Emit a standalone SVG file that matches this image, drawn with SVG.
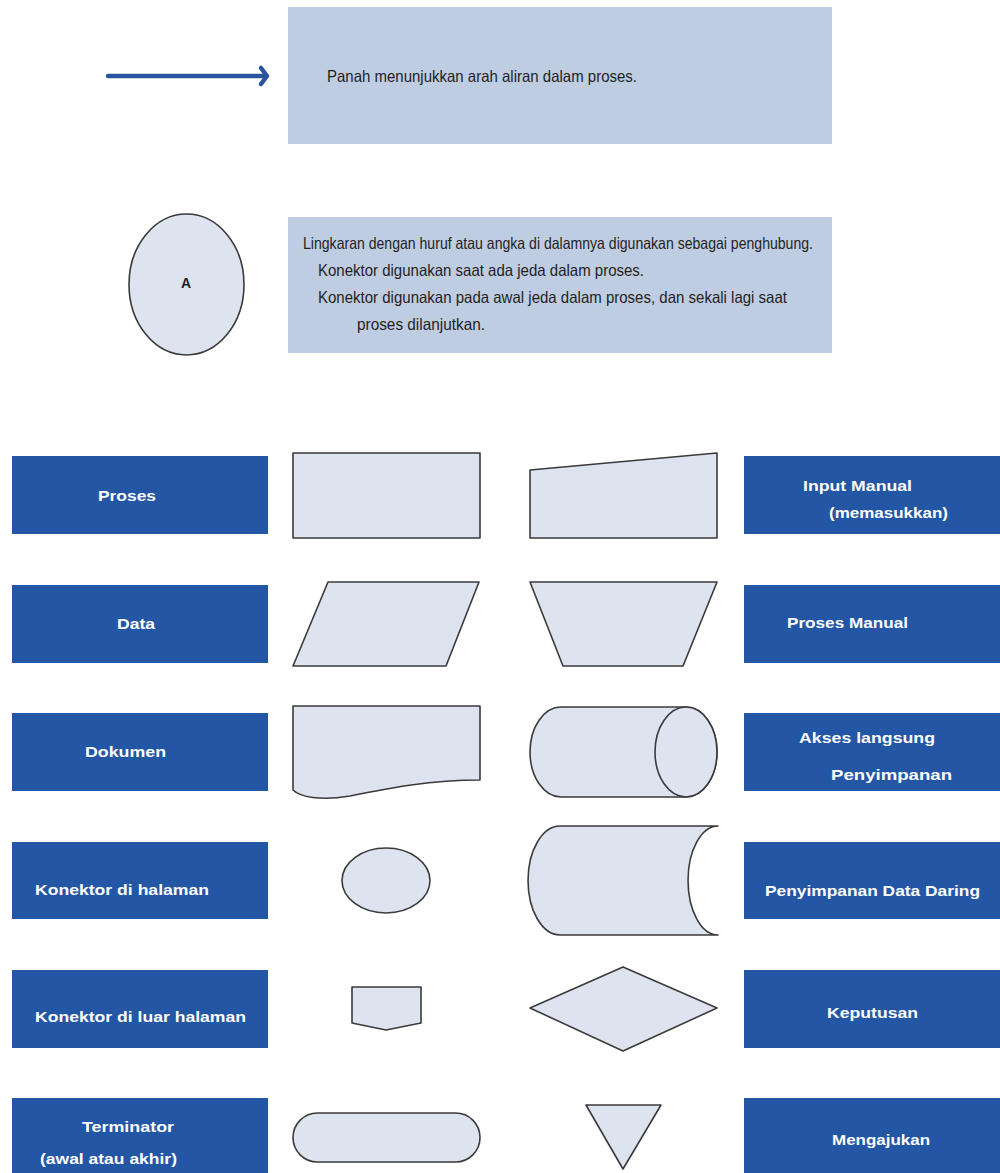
<svg xmlns="http://www.w3.org/2000/svg" width="1000" height="1173" viewBox="0 0 1000 1173">
<style>
.bg{fill:#ffffff}
.note{fill:#bfcde3}
.lbl{fill:#2356a4}
.shape{fill:#dde4f0;stroke:#3a3a3a;stroke-width:1.6;stroke-linejoin:round}
.lt{font-family:"Liberation Sans",Arial,sans-serif;font-weight:bold;font-size:15px;fill:#ffffff}
.nt{font-family:"Liberation Sans Narrow","Liberation Sans",Arial,sans-serif;font-size:16.5px;fill:#1f1f1f}
.arr{fill:none;stroke:#2a53a0;stroke-width:4.5;stroke-linecap:round;stroke-linejoin:round}
</style>
<rect class="bg" x="0" y="0" width="1000" height="1173"/>

<g id="connectors">
  <g id="arrow-legend">
    <line class="arr" x1="108" y1="76" x2="266" y2="76"/>
    <path class="arr" d="M261,68 L267,76 L261,84"/>
  </g>
</g>

<g id="note-arrow">
  <rect class="note" x="288" y="7" width="544" height="137"/>
  <text class="nt" x="327" y="82" textLength="310" lengthAdjust="spacingAndGlyphs">Panah menunjukkan arah aliran dalam proses.</text>
</g>

<g id="connector-A">
  <ellipse class="shape" cx="186.5" cy="284.5" rx="57.5" ry="70.5"/>
  <text x="186" y="288" text-anchor="middle" style="font-family:'Liberation Sans',Arial,sans-serif;font-weight:bold;font-size:14px;fill:#1f1f1f">A</text>
</g>

<g id="note-connector">
  <rect class="note" x="288" y="217" width="544" height="136"/>
  <text class="nt" x="303" y="249" textLength="510" lengthAdjust="spacingAndGlyphs">Lingkaran dengan huruf atau angka di dalamnya digunakan sebagai penghubung.</text>
  <text class="nt" x="318" y="276" textLength="326" lengthAdjust="spacingAndGlyphs">Konektor digunakan saat ada jeda dalam proses.</text>
  <text class="nt" x="318" y="303" textLength="469" lengthAdjust="spacingAndGlyphs">Konektor digunakan pada awal jeda dalam proses, dan sekali lagi saat</text>
  <text class="nt" x="357" y="330" textLength="128" lengthAdjust="spacingAndGlyphs">proses dilanjutkan.</text>
</g>

<!-- Row 1 -->
<g id="label-proses">
  <rect class="lbl" x="12" y="456" width="256" height="78"/>
  <text class="lt" x="98" y="501" textLength="58" lengthAdjust="spacingAndGlyphs">Proses</text>
</g>
<g id="shape-proses">
  <rect class="shape" x="293" y="453" width="187" height="85"/>
</g>
<g id="shape-input-manual">
  <polygon class="shape" points="530,470 717,453 717,538 530,538"/>
</g>
<g id="label-input-manual">
  <rect class="lbl" x="744" y="456" width="256" height="78"/>
  <text class="lt" x="803" y="491" textLength="109" lengthAdjust="spacingAndGlyphs">Input Manual</text>
  <text class="lt" x="829" y="518" textLength="119" lengthAdjust="spacingAndGlyphs">(memasukkan)</text>
</g>

<!-- Row 2 -->
<g id="label-data">
  <rect class="lbl" x="12" y="585" width="256" height="78"/>
  <text class="lt" x="117" y="629" textLength="38" lengthAdjust="spacingAndGlyphs">Data</text>
</g>
<g id="shape-data">
  <polygon class="shape" points="328,582 479,582 446,666 293,666"/>
</g>
<g id="shape-proses-manual">
  <polygon class="shape" points="530,582 717,582 683,666 563,666"/>
</g>
<g id="label-proses-manual">
  <rect class="lbl" x="744" y="585" width="256" height="78"/>
  <text class="lt" x="787" y="628" textLength="121" lengthAdjust="spacingAndGlyphs">Proses Manual</text>
</g>

<!-- Row 3 -->
<g id="label-dokumen">
  <rect class="lbl" x="12" y="713" width="256" height="78"/>
  <text class="lt" x="85" y="757" textLength="81" lengthAdjust="spacingAndGlyphs">Dokumen</text>
</g>
<g id="shape-dokumen">
  <path class="shape" d="M293,706 L480,706 L480,780 C430,780 390,788 350,796 C320,801 300,797 293,790 Z"/>
</g>
<g id="shape-akses-langsung">
  <path class="shape" d="M561,707 L686,707 A31,45 0 0 1 686,797 L561,797 A31,45 0 0 1 561,707 Z"/>
  <ellipse class="shape" cx="686" cy="752" rx="31" ry="45"/>
</g>
<g id="label-akses-langsung">
  <rect class="lbl" x="744" y="713" width="256" height="78"/>
  <text class="lt" x="799" y="743" textLength="136" lengthAdjust="spacingAndGlyphs">Akses langsung</text>
  <text class="lt" x="831" y="780" textLength="121" lengthAdjust="spacingAndGlyphs">Penyimpanan</text>
</g>

<!-- Row 4 -->
<g id="label-konektor-halaman">
  <rect class="lbl" x="12" y="842" width="256" height="77"/>
  <text class="lt" x="35" y="895" textLength="174" lengthAdjust="spacingAndGlyphs">Konektor di halaman</text>
</g>
<g id="shape-konektor-halaman">
  <ellipse class="shape" cx="386" cy="880.5" rx="44" ry="32.5"/>
</g>
<g id="shape-penyimpanan-daring">
  <path class="shape" d="M560,826 L718,826 A30,54.5 0 0 0 718,935 L560,935 A32,54.5 0 0 1 560,826 Z"/>
</g>
<g id="label-penyimpanan-daring">
  <rect class="lbl" x="744" y="842" width="256" height="77"/>
  <text class="lt" x="765" y="896" textLength="215" lengthAdjust="spacingAndGlyphs">Penyimpanan  Data  Daring</text>
</g>

<!-- Row 5 -->
<g id="label-konektor-luar">
  <rect class="lbl" x="12" y="970" width="256" height="78"/>
  <text class="lt" x="35" y="1022" textLength="211" lengthAdjust="spacingAndGlyphs">Konektor di luar halaman</text>
</g>
<g id="shape-konektor-luar">
  <polygon class="shape" points="352,987 421,987 421,1023 386,1030 352,1023"/>
</g>
<g id="shape-keputusan">
  <polygon class="shape" points="530,1008 623,967 717,1008 623,1051"/>
</g>
<g id="label-keputusan">
  <rect class="lbl" x="744" y="970" width="256" height="78"/>
  <text class="lt" x="827" y="1018" textLength="91" lengthAdjust="spacingAndGlyphs">Keputusan</text>
</g>

<!-- Row 6 -->
<g id="label-terminator">
  <rect class="lbl" x="12" y="1098" width="256" height="75"/>
  <text class="lt" x="82" y="1132" textLength="92" lengthAdjust="spacingAndGlyphs">Terminator</text>
  <text class="lt" x="40" y="1164" textLength="137" lengthAdjust="spacingAndGlyphs">(awal atau akhir)</text>
</g>
<g id="shape-terminator">
  <rect class="shape" x="293" y="1113" width="187" height="49" rx="24.5" ry="24.5"/>
</g>
<g id="shape-mengajukan">
  <polygon class="shape" points="586,1105 661,1105 623,1169"/>
</g>
<g id="label-mengajukan">
  <rect class="lbl" x="744" y="1098" width="256" height="75"/>
  <text class="lt" x="832" y="1145" textLength="98" lengthAdjust="spacingAndGlyphs">Mengajukan</text>
</g>
</svg>
